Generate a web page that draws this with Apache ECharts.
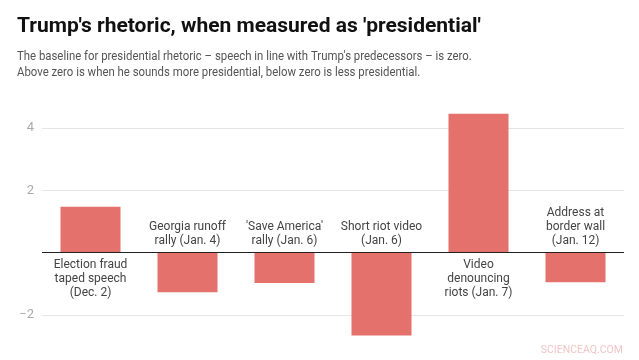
<!DOCTYPE html>
<html>
<head>
<meta charset="utf-8">
<script src="https://cdn.jsdelivr.net/npm/echarts@6/dist/echarts.min.js"></script>
<style>html,body{margin:0;padding:0;background:#fff}#c{width:639px;height:360px}</style>
</head>
<body>
<div id="c"></div>
<script>
var categories = [
  "Election fraud\ntaped speech\n(Dec. 2)",
  "Georgia runoff\nrally (Jan. 4)",
  "'Save America'\nrally (Jan. 6)",
  "Short riot video\n(Jan. 6)",
  "Video\ndenouncing\nriots (Jan. 7)",
  "Address at\nborder wall\n(Jan. 12)"
];
var values = [1.47, -1.27, -0.97, -2.66, 4.46, -0.95];
var yTicks = [-2, 0, 2, 4];
var titleText = "Trump's rhetoric, when measured as 'presidential'";
var subtitleText = "The baseline for presidential rhetoric \u2013 speech in line with Trump's predecessors \u2013 is zero.\nAbove zero is when he sounds more presidential, below zero is less presidential.";

var FONT = "'Roboto', sans-serif";
var chart = echarts.init(document.getElementById('c'));
chart.setOption({
  animation: false,
  title: [{
    text: titleText,
    left: 12, top: 11,
    textStyle: {fontFamily: FONT, fontSize: 21, fontWeight: 'bold', color: '#111'}
  }],
  graphic: [{
    type: 'text', left: 17, top: 49, scaleX: 0.875,
    style: {text: subtitleText, fill: '#555', font: "13px 'Roboto', sans-serif", lineHeight: 16}
  }, {
    type: 'text', right: 16, top: 345,
    style: {text: 'SCIENCEAQ.COM', fill: '#f2c6c6', font: "10.5px 'Roboto', sans-serif"}
  }],
  grid: {left: 42, right: 15, top: 128, height: 187},
  xAxis: {
    type: 'category', data: categories,
    axisLine: {show: false}, axisTick: {show: false}, axisLabel: {show: false}
  },
  yAxis: {
    type: 'value', min: yTicks[0], max: yTicks[yTicks.length - 1], interval: 2,
    axisLine: {show: false}, axisTick: {show: false},
    splitLine: {lineStyle: {color: '#e6e6e6', width: 1}},
    axisLabel: {
      color: '#aaa', fontSize: 13, fontFamily: FONT, margin: 8,
      formatter: function (v) { return v === 0 ? '' : String(v).replace('-', '\u2212'); }
    }
  },
  series: [{
    type: 'bar', clip: false, barWidth: 60,
    itemStyle: {color: '#e4716b'},
    data: values.map(function (v) {
      return {value: v, label: {position: v >= 0 ? 'bottom' : 'top'}};
    }),
    label: {
      show: true, distance: 5,
      formatter: function (p) { return categories[p.dataIndex]; },
      fontFamily: FONT, fontSize: 12, color: '#444', lineHeight: 14
    },
    markLine: {
      silent: true, symbol: 'none', label: {show: false},
      lineStyle: {color: '#222', width: 1, type: 'solid'},
      data: [{yAxis: 0}]
    }
  }]
});
</script>
</body>
</html>
